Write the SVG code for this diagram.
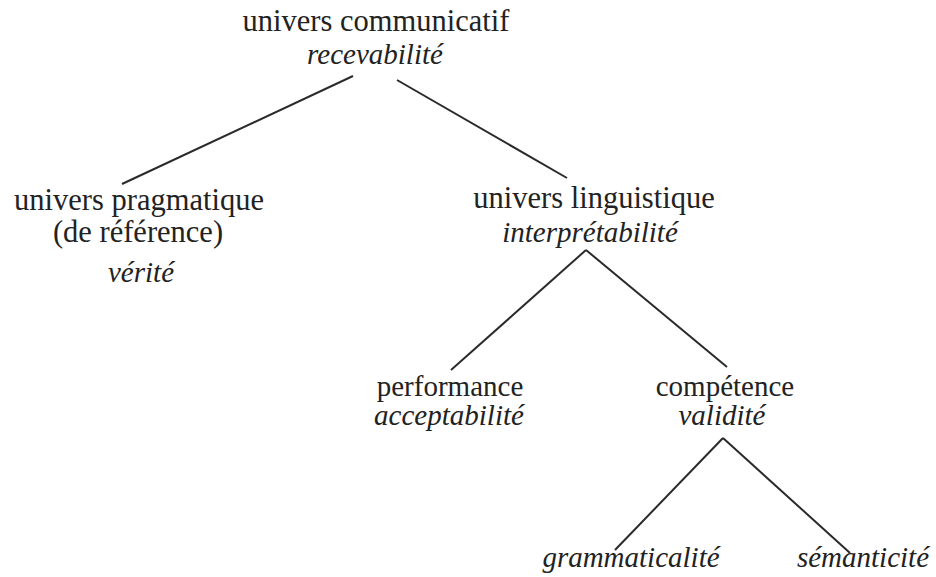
<svg xmlns="http://www.w3.org/2000/svg" width="936" height="577" viewBox="0 0 936 577">
<style>
text{font-family:"Liberation Serif","Times New Roman",serif;fill:#222;text-anchor:middle}
.r{font-size:30.5px}
.s{font-size:29px}
.i{font-size:29px;font-style:italic}
.c line{stroke:#2a2a2a;stroke-width:2;fill:none}
</style>
<rect width="936" height="577" fill="#fff"/>
<g class="c" id="connectors">
<line x1="353" y1="76" x2="122" y2="184"/>
<line x1="397" y1="80" x2="567" y2="178"/>
<line x1="586" y1="250" x2="451" y2="370"/>
<line x1="586" y1="250" x2="727" y2="367"/>
<line x1="723" y1="438" x2="615" y2="550"/>
<line x1="723" y1="438" x2="850" y2="553"/>
</g>
<g id="communicatif">
<text class="r" x="376" y="31">univers communicatif</text>
<text class="i" x="375" y="64">recevabilité</text>
</g>
<g id="pragmatique">
<text class="r" x="139" y="210">univers pragmatique</text>
<text class="r" x="138" y="242">(de référence)</text>
<text class="i" x="141" y="282">vérité</text>
</g>
<g id="linguistique">
<text class="r" x="594" y="208">univers linguistique</text>
<text class="i" x="590" y="242">interprétabilité</text>
</g>
<g id="performance">
<text class="s" x="450" y="396">performance</text>
<text class="i" x="449" y="425">acceptabilité</text>
</g>
<g id="competence">
<text class="s" x="725" y="396">compétence</text>
<text class="i" x="722" y="425">validité</text>
</g>
<g id="grammaticalite">
<text class="i" x="631" y="567">grammaticalité</text>
</g>
<g id="semanticite">
<text class="i" x="863" y="567">sémanticité</text>
</g>
</svg>
